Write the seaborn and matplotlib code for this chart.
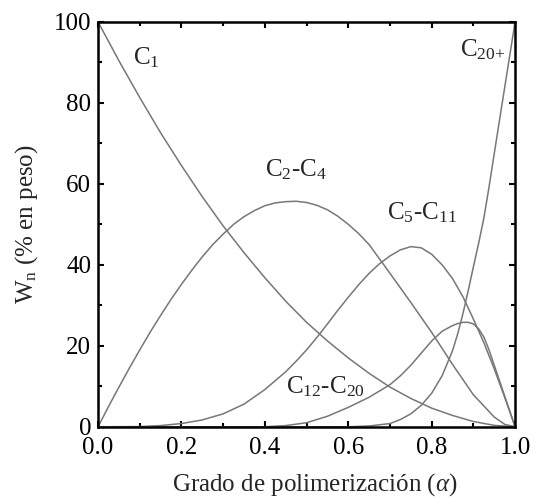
import numpy as np
import pandas as pd
import matplotlib
matplotlib.use('Agg')
import matplotlib.pyplot as plt
import seaborn as sns

sns.set_theme(style='ticks')
plt.rcParams['font.family'] = ['Liberation Serif', 'DejaVu Serif']
plt.rcParams['mathtext.fontset'] = 'custom'
plt.rcParams['mathtext.rm'] = 'Liberation Serif'
plt.rcParams['mathtext.it'] = 'Liberation Serif:italic'
plt.rcParams['font.size'] = 18

# valores (alfa, % en peso)
alpha_c1 = [0, 0.05, 0.1, 0.15, 0.2, 0.25, 0.3, 0.35, 0.4, 0.45, 0.5,
            0.55, 0.6, 0.65, 0.7, 0.75, 0.8, 0.85, 0.9, 0.95, 1.0]
w_c1 = [100, 90.4, 81.3, 72.6, 64.5, 56.8, 49.6, 43.0, 36.8, 31.0, 25.8,
        21.2, 17.0, 13.2, 9.8, 7.0, 4.6, 2.8, 1.3, 0.35, 0]

alpha_c2c4 = [0, 0.025, 0.05, 0.075, 0.1, 0.125, 0.15, 0.175, 0.2, 0.225, 0.25,
              0.275, 0.3, 0.325, 0.35, 0.375, 0.4, 0.425, 0.45, 0.475, 0.5,
              0.525, 0.55, 0.575, 0.6, 0.625, 0.65, 0.7, 0.75, 0.8, 0.85,
              0.9, 0.95, 0.975, 1.0]
w_c2c4 = [0, 5.0, 9.8, 14.5, 19.0, 23.4, 27.5, 31.5, 35.2, 38.7, 42.0,
          45.0, 47.6, 50.0, 51.9, 53.4, 54.6, 55.3, 55.6, 55.7, 55.4,
          54.7, 53.6, 52.0, 50.0, 47.7, 45.0, 37.9, 30.7, 23.3, 15.4,
          7.9, 2.4, 0.6, 0]

alpha_c5c11 = [0, 0.1, 0.15, 0.2, 0.25, 0.3, 0.35, 0.4, 0.45, 0.475, 0.5,
               0.525, 0.55, 0.575, 0.6, 0.625, 0.65, 0.675, 0.7, 0.725, 0.75,
               0.775, 0.8, 0.825, 0.85, 0.875, 0.9, 0.925, 0.95, 0.975, 1.0]
w_c5c11 = [0, 0.05, 0.3, 0.8, 1.7, 3.2, 5.6, 9.2, 13.6, 16.2, 19.0,
           22.1, 25.4, 28.8, 32.0, 35.1, 37.9, 40.3, 42.2, 43.7, 44.5,
           44.2, 42.6, 40.0, 36.6, 32.1, 26.6, 20.8, 14.3, 7.3, 0]

alpha_c12c20 = [0, 0.2, 0.4, 0.45, 0.5, 0.55, 0.6, 0.65, 0.7, 0.725, 0.75,
                0.775, 0.8, 0.825, 0.85, 0.8625, 0.875, 0.8875, 0.9, 0.9125,
                0.925, 0.9375, 0.95, 0.975, 1.0]
w_c12c20 = [0, 0, 0, 0.3, 1.0, 2.6, 4.8, 7.3, 10.4, 12.6, 15.2,
            18.2, 21.2, 23.6, 25.0, 25.5, 25.8, 25.8, 25.4, 24.2,
            22.2, 19.0, 15.2, 7.6, 0]

alpha_c20 = [0, 0.2, 0.4, 0.6, 0.65, 0.7, 0.725, 0.75, 0.775, 0.8, 0.825,
             0.85, 0.8625, 0.875, 0.8875, 0.9, 0.9125, 0.925, 0.9375, 0.95,
             0.975, 1.0]
w_c20 = [0, 0, 0, 0, 0.2, 0.8, 1.8, 3.2, 5.3, 8.3, 12.6,
         18.8, 23.0, 28.0, 33.6, 39.5, 45.3, 51.5, 59.2, 67.5,
         83.8, 100]

series = ['C1', 'C2-C4', 'C5-C11', 'C12-C20', 'C20+']
datos = []
for nombre, a, w in zip(series,
                        [alpha_c1, alpha_c2c4, alpha_c5c11, alpha_c12c20, alpha_c20],
                        [w_c1, w_c2c4, w_c5c11, w_c12c20, w_c20]):
    datos.append(pd.DataFrame({'alpha': a, 'w': w, 'serie': nombre}))
df = pd.concat(datos, ignore_index=True)

fig, ax = plt.subplots(figsize=(5.36, 4.98), dpi=100)
fig.subplots_adjust(left=0.183, right=0.961, bottom=0.143, top=0.956)

sns.lineplot(data=df, x='alpha', y='w', hue='serie', palette=['#777777'] * 5,
             estimator=None, legend=False, lw=1.1, ax=ax,
             solid_joinstyle='round')

ax.set_xlim(0, 1)
ax.set_ylim(0, 100)
ax.set_xticks(np.arange(0, 1.01, 0.2))
ax.set_xticks(np.arange(0, 1.01, 0.1), minor=True)
ax.set_yticks(np.arange(0, 101, 20))
ax.set_yticks(np.arange(0, 101, 10), minor=True)
ax.set_xticklabels(['0.0', '0.2', '0.4', '0.6', '0.8', '1.0'])
ax.tick_params(which='both', direction='in', top=True, right=True,
               width=1.5, colors='black', labelsize=18)
ax.tick_params(which='major', length=4.5, pad=5)
ax.tick_params(axis='x', which='major', pad=7)
ax.tick_params(which='minor', length=3)
for s in ax.spines.values():
    s.set_linewidth(1.8)
    s.set_color('black')

ax.set_xlabel(r'Grado de polimerización ($\alpha$)', fontsize=18)
ax.set_ylabel(r'W$_{\mathrm{n}}$ (% en peso)', fontsize=18)
ax.xaxis.set_label_coords(0.52, -0.11)
ax.yaxis.set_label_coords(-0.14, 0.5)

ax.text(0.084, 89.4, r'C$_{1}$', ha='left', va='baseline', fontsize=18)
ax.text(0.474, 61.8, r'C$_{2}$-C$_{4}$', ha='center', va='baseline', fontsize=18)
ax.text(0.776, 51.1, r'C$_{5}$-C$_{11}$', ha='center', va='baseline', fontsize=18)
ax.text(0.922, 91.4, r'C$_{20{+}}$', ha='center', va='baseline', fontsize=18)
ax.text(0.546, 8.3, r'C$_{12}$-C$_{20}$', ha='center', va='baseline', fontsize=18)

fig.savefig('out.png', dpi=100)
